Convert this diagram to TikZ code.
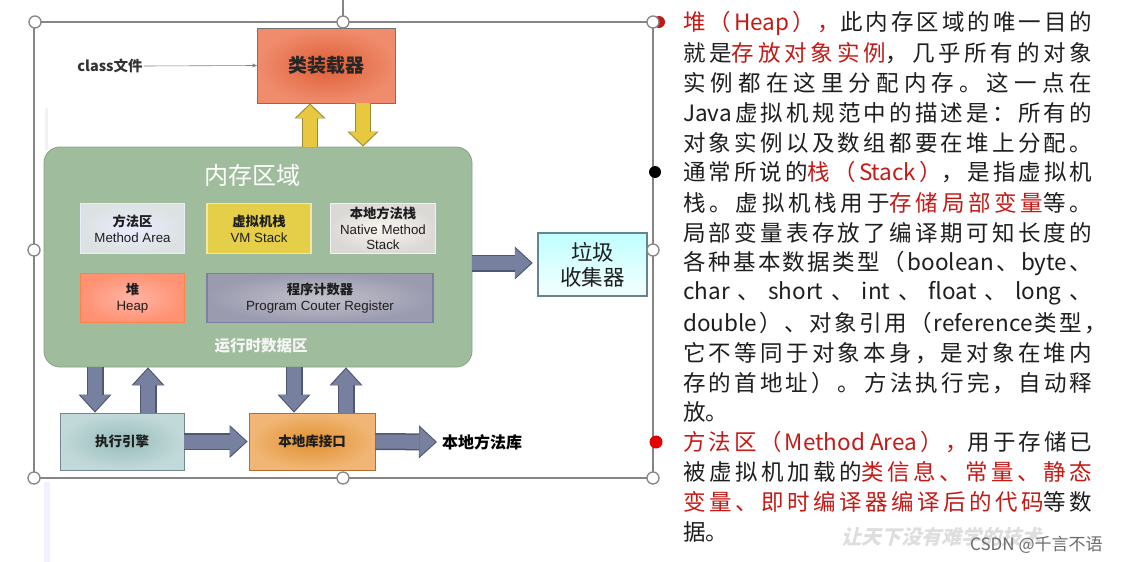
\documentclass[tikz,border=0pt]{standalone}
\usepackage{fontspec}
\setmainfont{Liberation Sans}
\newfontfamily\cjk{Noto Sans CJK SC}
\newcommand\zhb{\cjk\bfseries}
\usetikzlibrary{arrows.meta,calc}
\newXeTeXintercharclass\cjkcls
\count255="3000 \loop\ifnum\count255<"3040 \XeTeXcharclass\count255=\cjkcls \advance\count255 by 1 \repeat
\count255="4E00 \loop\ifnum\count255<"A000 \XeTeXcharclass\count255=\cjkcls \advance\count255 by 1 \repeat
\count255="FF00 \loop\ifnum\count255<"FF60 \XeTeXcharclass\count255=\cjkcls \advance\count255 by 1 \repeat
\XeTeXinterchartoks\cjkcls\cjkcls={\hskip 0pt plus 1fil\relax}
\XeTeXinterchartoks 0 \cjkcls={\hskip 0pt plus 1fil\relax}
\XeTeXinterchartoks\cjkcls 0 ={\hskip 0pt plus 1fil\relax}
\definecolor{redc}{HTML}{C41A16}
\definecolor{txtc}{HTML}{1E1E1E}
\definecolor{framec}{HTML}{858585}
\definecolor{arrin}{HTML}{7880A0}
\definecolor{arrout}{HTML}{4F5872}
\definecolor{yelin}{HTML}{E8C83F}
\definecolor{yelout}{HTML}{9C8A3A}
\definecolor{memc}{HTML}{9FBD9C}
\definecolor{loadin}{HTML}{DF5E38}
\definecolor{loadout}{HTML}{EF8C6C}
\definecolor{vmsc}{HTML}{E6CF48}
\definecolor{execin}{HTML}{98BCBC}
\definecolor{execout}{HTML}{C2D9D9}
\definecolor{libin}{HTML}{E0912F}
\definecolor{libout}{HTML}{F1B676}
\newcommand\rd[1]{\textcolor{redc}{#1}}
\newcommand\jl[4][409pt]{\node[rtext] (#2) at (683,#3) {\parbox{#1}{\XeTeXinterchartokenstate=1 \noindent\parfillskip=0pt\relax #4}};}
\begin{document}
\begin{tikzpicture}[x=1pt,y=-1pt,
  bluearrow/.style={draw=arrin, line width=14pt, shorten >=1.6pt,
     -{Triangle[width=29pt,length=16pt,line width=0pt]},
     preaction={draw=arrout, line width=17pt, shorten >=0pt,
     -{Triangle[width=33pt,length=18pt,line width=0pt]}}},
  yelarrow/.style={draw=yelin, line width=13.5pt, shorten >=1.6pt,
     -{Triangle[width=27pt,length=13pt,line width=0pt]},
     preaction={draw=yelout, line width=16.5pt, shorten >=0pt,
     -{Triangle[width=31pt,length=15pt,line width=0pt]}}},
  ibox/.style={inner sep=0pt, align=center, line width=1.5pt, text=txtc,
     font=\fontsize{13.3}{16}\selectfont},
  rtext/.style={inner sep=0pt, anchor=west, text=txtc, font=\cjk\fontsize{22.5}{25}\selectfont},
  handle/.style={circle, draw=framec, fill=white, line width=1.3pt, minimum size=12pt, inner sep=0pt},
]
\useasboundingbox (0,0) rectangle (1122,562);
\fill[white] (0,0) rectangle (1122,562);
% faint strips
\fill[blue!6] (44,482) rectangle (50,562);
\fill[black!5] (45,108) rectangle (48,150);

% class loader
\node[draw=black!55, line width=0.8pt, shading=radial, inner color=loadin, outer color=loadout,
      minimum width=138pt, minimum height=75pt, font=\zhb\fontsize{19}{21}\selectfont, text=black!85] (loader) at (326.5,65.5) {类装载器};
\node[inner sep=1pt, font=\zhb\fontsize{14.5}{16}\selectfont, text=black!80] (classfile) at (110,66) {class文件};
\draw[black!50, line width=0.6pt, -{Stealth[length=5pt,width=4pt]}] (classfile.east) -- (loader.west);

% memory area
\node[draw=memc!85!black, fill=memc, rounded corners=16pt, line width=0.8pt,
      minimum width=428pt, minimum height=220pt] (mem) at (258,257) {};
\node[inner sep=0pt, text=white, font=\cjk\fontsize{24}{26}\selectfont] (memtitle) at (252,175) {内存区域};
\node[inner sep=0pt, text=white!96!black, font=\zhb\fontsize{15.5}{17}\selectfont] (rtda) at (261,346) {运行时数据区};

\node[ibox, draw=white!92!blue, shading=radial, inner color=white!92!blue, outer color=cyan!10!gray!25!white,
      minimum width=104pt, minimum height=50pt] (ma) at (132.5,228.5) {{\zhb 方法区}\\Method Area};
\node[ibox, draw=vmsc!50!white, fill=vmsc,
      minimum width=104pt, minimum height=50pt] (vms) at (259,228.5) {{\zhb 虚拟机栈}\\VM Stack};
\node[ibox, draw=white!95!black, shading=radial, inner color=white!92!brown, outer color=brown!12!gray!30!white,
      minimum width=105pt, minimum height=50pt, font=\fontsize{13.3}{15.5}\selectfont] (nms) at (383,228.5) {{\zhb 本地方法栈}\\Native Method\\Stack};
\node[ibox, draw=orange!60!red!70!white, shading=radial, inner color=orange!30!red!35!white, outer color=orange!45!red!55!white,
      minimum width=104pt, minimum height=49pt] (heap) at (132.5,298) {{\zhb 堆}\\Heap};
\node[ibox, draw=blue!20!gray!85, line width=1.2pt, shading=radial, inner color=blue!8!gray!45!white, outer color=blue!12!gray!70!white,
      minimum width=226pt, minimum height=49pt] (pcr) at (320,298) {{\zhb 程序计数器}\\Program Couter Register};

% garbage collector
\node[draw=cyan!40!black!80, line width=2.5pt, top color=cyan!25!white, bottom color=cyan!4!white,
      minimum width=109pt, minimum height=63pt, align=center, inner sep=0pt,
      font=\cjk\fontsize{21.5}{25}\selectfont, text=txtc] (gc) at (592.5,264.5) {垃圾\\收集器};

% bottom boxes
\node[draw=cyan!30!gray!80!black, line width=0.8pt, shading=radial, inner color=execin, outer color=execout,
      minimum width=124pt, minimum height=57pt, font=\zhb\fontsize{13.5}{15}\selectfont, text=txtc] (exec) at (122,441.5) {执行引擎};
\node[draw=orange!60!black!80, line width=0.8pt, shading=radial, inner color=libin, outer color=libout,
      minimum width=126pt, minimum height=57pt, font=\zhb\fontsize{13.5}{15}\selectfont, text=txtc] (nlib) at (312,441.5) {本地库接口};
\node[anchor=west, inner sep=0pt, font=\zhb\fontsize{16}{18}\selectfont, text=black] (nmlib) at (442,442) {本地方法库};

% block arrows
\draw[yelarrow] ([xshift=-16.5pt]loader.south |- mem.north) -- ([xshift=-16.5pt]loader.south);
\draw[yelarrow] ([xshift=36.5pt]loader.south) -- ([xshift=36.5pt]loader.south |- mem.north);
\draw[bluearrow] (mem.east |- 0,263) -- ([xshift=-4pt]gc.west |- 0,263);
\draw[bluearrow] ([xshift=-27pt]exec.north |- mem.south) -- ([xshift=-27pt]exec.north);
\draw[bluearrow] ([xshift=26pt]exec.north) -- ([xshift=26pt]exec.north |- mem.south);
\draw[bluearrow] ([xshift=-18pt]nlib.north |- mem.south) -- ([xshift=-18pt]nlib.north);
\draw[bluearrow] ([xshift=34pt]nlib.north) -- ([xshift=34pt]nlib.north |- mem.south);
\draw[bluearrow] (exec.east) -- ([xshift=-1pt]nlib.west);
\draw[bluearrow] (nlib.east) -- ([xshift=-5pt]nmlib.west);

% selection frame
\draw[framec, line width=1.3pt] (34,22) rectangle (653,478);
\draw[framec, line width=1.3pt] (343,0) -- (343,16);
\fill[redc] (659,22) circle (6pt);
\foreach \n/\p in {h1/{(35,22)},h2/{(343,22)},h3/{(653,22)},h4/{(34,250)},h5/{(653,250)},h6/{(34,478)},h7/{(343,478)},h8/{(653,478)}}
  \node[handle] (\n) at \p {};
\fill[black] (655,172) circle (6pt);
\fill[red!90!black] (656,442) circle (6.5pt);

% right text
\jl{t1}{23}{\rd{堆（Heap），}此内存区域的唯一目的}
\jl{t2}{53}{就是\rd{存放对象实例}，几乎所有的对象}
\jl{t3}{83}{实例都在这里分配内存。这一点在}
\jl{t4}{113}{Java虚拟机规范中的描述是：所有的}
\jl{t5}{143}{对象实例以及数组都要在堆上分配。}
\jl{t6}{172}{通常所说的\rd{栈（Stack）}，是指虚拟机}
\jl{t7}{203}{栈。虚拟机栈用于\rd{存储局部变量}等。}
\jl{t8}{233}{局部变量表存放了编译期可知长度的}
\jl{t9}{263}{各种基本数据类型（boolean、byte、}
\jl{t10}{293}{char 、 short 、 int 、 float 、 long 、}
\jl[424pt]{t11}{323}{double）、对象引用（reference类型，}
\jl{t12}{353}{它不等同于对象本身，是对象在堆内}
\jl{t13}{383}{存的首地址）。 方法执行完，自动释}
\node[rtext] (t14) at (683,412) {放。};
\jl{t15}{442}{\rd{方法区（Method~Area），}用于存储已}
\jl{t16}{472}{被虚拟机加载的\rd{类信息、常量、静态}}
\jl{t17}{502}{\rd{变量、即时编译器编译后的代码}等数}
\node[rtext] (t18) at (683,532) {据。};

% watermark
\node[inner sep=0pt, anchor=west, text=black!13, font=\zhb\fontsize{20}{22}\selectfont, xslant=0.25] (wm) at (843,537) {让天下没有难学的技术};
\node[inner sep=0pt, anchor=west, text=black!58, font=\cjk\fontsize{17}{19}\selectfont] (csdn) at (970,545) {CSDN @千言不语};
\end{tikzpicture}
\end{document}
